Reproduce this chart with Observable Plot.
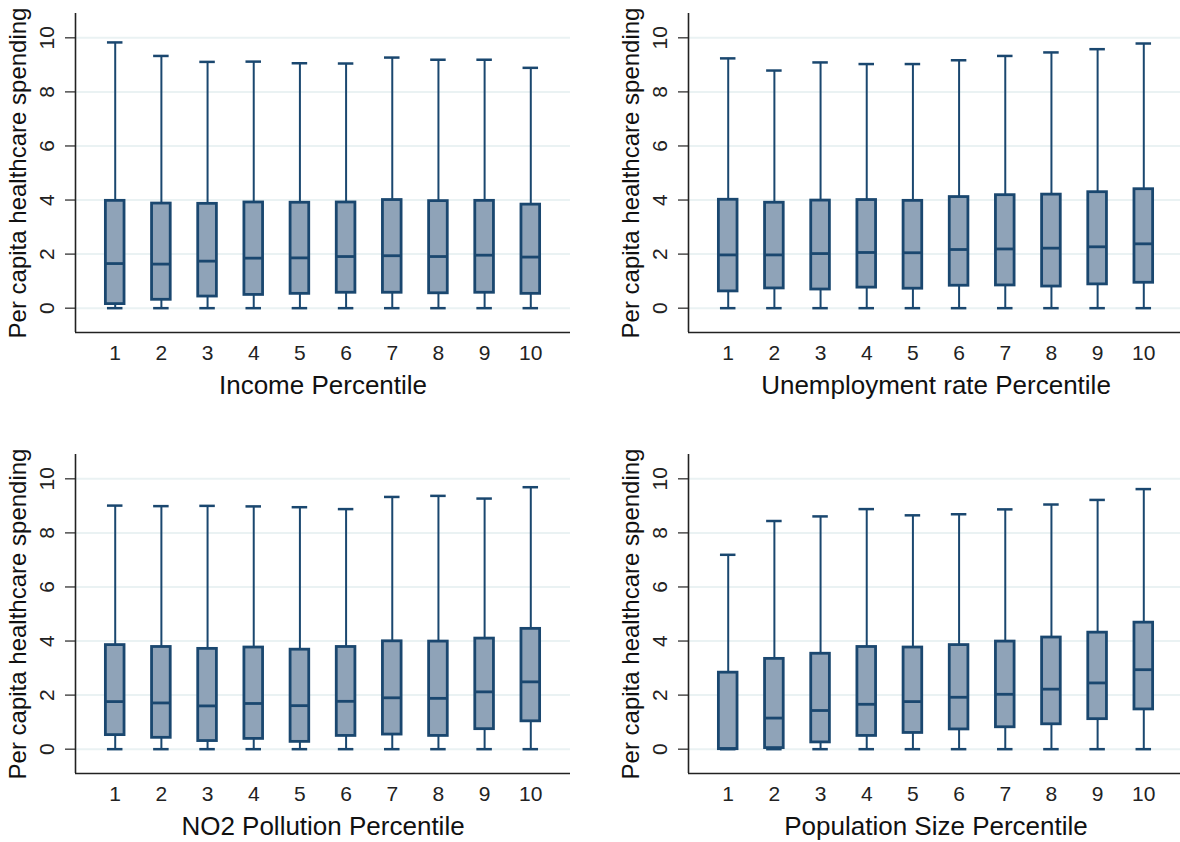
<!DOCTYPE html>
<html>
<head>
<meta charset="utf-8">
<script src="https://cdn.jsdelivr.net/npm/d3@7"></script>
<script src="https://cdn.jsdelivr.net/npm/@observablehq/plot@0.6"></script>
<style>
  html, body { margin: 0; padding: 0; background: #fff; }
  #wrap { position: relative; width: 1180px; height: 842px; overflow: hidden; background: #fff; }
  .panel { position: absolute; width: 613px; height: 441px; }
  .panel svg { max-width: none !important; width: 613px !important; height: 441px !important; }
</style>
</head>
<body>
<div id="wrap"></div>
<script>
// ---- data ----
const categories = [1, 2, 3, 4, 5, 6, 7, 8, 9, 10];
const yTicks = [0, 2, 4, 6, 8, 10];
const yTitle = "Per capita healthcare spending";

const incomeTitle = "Income Percentile";
const incomeMin = [0, 0, 0, 0, 0, 0, 0, 0, 0, 0];
const incomeQ1  = [0.15, 0.31, 0.43, 0.49, 0.53, 0.57, 0.57, 0.55, 0.57, 0.53];
const incomeMed = [1.65, 1.63, 1.74, 1.85, 1.86, 1.91, 1.94, 1.91, 1.96, 1.89];
const incomeQ3  = [3.97, 3.87, 3.86, 3.91, 3.90, 3.91, 4.00, 3.96, 3.97, 3.83];
const incomeMax = [9.83, 9.33, 9.11, 9.12, 9.06, 9.05, 9.27, 9.19, 9.19, 8.89];

const unempTitle = "Unemployment rate Percentile";
const unempMin = [0, 0, 0, 0, 0, 0, 0, 0, 0, 0];
const unempQ1  = [0.62, 0.73, 0.69, 0.76, 0.72, 0.83, 0.84, 0.80, 0.88, 0.94];
const unempMed = [1.97, 1.97, 2.02, 2.06, 2.05, 2.17, 2.19, 2.22, 2.27, 2.38];
const unempQ3  = [4.01, 3.90, 3.98, 4.00, 3.97, 4.11, 4.18, 4.20, 4.29, 4.40];
const unempMax = [9.24, 8.79, 9.09, 9.03, 9.03, 9.17, 9.33, 9.46, 9.58, 9.79];

const no2Title = "NO2 Pollution Percentile";
const no2Min = [0, 0, 0, 0, 0, 0, 0, 0, 0, 0];
const no2Q1  = [0.52, 0.42, 0.30, 0.38, 0.27, 0.49, 0.54, 0.49, 0.74, 1.03];
const no2Med = [1.76, 1.71, 1.60, 1.69, 1.61, 1.77, 1.90, 1.88, 2.12, 2.49];
const no2Q3  = [3.85, 3.78, 3.71, 3.76, 3.68, 3.78, 3.99, 3.98, 4.09, 4.45];
const no2Max = [9.01, 8.99, 9.00, 8.98, 8.95, 8.88, 9.33, 9.37, 9.27, 9.69];

const popTitle = "Population Size Percentile";
const popMin = [0, 0, 0, 0, 0, 0, 0, 0, 0, 0];
const popQ1  = [0.00, 0.04, 0.25, 0.49, 0.60, 0.73, 0.81, 0.92, 1.11, 1.47];
const popMed = [0.02, 1.15, 1.43, 1.66, 1.76, 1.92, 2.03, 2.22, 2.45, 2.94];
const popQ3  = [2.83, 3.34, 3.53, 3.78, 3.76, 3.85, 3.98, 4.13, 4.31, 4.68];
const popMax = [7.19, 8.44, 8.61, 8.88, 8.65, 8.69, 8.87, 9.05, 9.22, 9.62];

const xDomain = [0.14, 10.86];
const yDomain = [-0.9, 10.9];

// ---- style ----
const NAVY = "#1a476f";
const FILL = "#8fa3b8";
const GRID = "#eaf2f3";
const AXIS = "#222222";
const FONT = "'Liberation Sans', Arial, Helvetica, sans-serif";
const boxHalf = 0.202;
const capHalf = 0.168;

function table(min, q1, med, q3, max) {
  return categories.map((c, i) => ({cat: c, lo: min[i], q1: q1[i], med: med[i], q3: q3[i], hi: max[i]}));
}

function panel(rows, xTitle) {
  return Plot.plot({
    width: 613,
    height: 441,
    marginLeft: 75,
    marginRight: 43,
    marginTop: 13,
    marginBottom: 109,
    style: {fontFamily: FONT, background: "transparent", color: AXIS, overflow: "visible"},
    x: {type: "linear", domain: xDomain},
    y: {type: "linear", domain: yDomain},
    marks: [
      Plot.ruleY(yTicks, {stroke: GRID, strokeWidth: 2}),
      Plot.ruleX(rows, {x: "cat", y1: "lo", y2: "q1", stroke: NAVY, strokeWidth: 2}),
      Plot.ruleX(rows, {x: "cat", y1: "q3", y2: "hi", stroke: NAVY, strokeWidth: 2}),
      Plot.ruleY(rows, {y: "lo", x1: d => d.cat - capHalf, x2: d => d.cat + capHalf, stroke: NAVY, strokeWidth: 2.5}),
      Plot.ruleY(rows, {y: "hi", x1: d => d.cat - capHalf, x2: d => d.cat + capHalf, stroke: NAVY, strokeWidth: 2.5}),
      Plot.rect(rows, {x1: d => d.cat - boxHalf, x2: d => d.cat + boxHalf, y1: "q1", y2: "q3", fill: FILL, stroke: NAVY, strokeWidth: 2.8}),
      Plot.ruleY(rows, {y: "med", x1: d => d.cat - boxHalf, x2: d => d.cat + boxHalf, stroke: NAVY, strokeWidth: 2.8}),
      Plot.ruleX([xDomain[0]], {stroke: AXIS, strokeWidth: 1.6}),
      Plot.ruleY([yDomain[0]], {stroke: AXIS, strokeWidth: 1.6}),
      Plot.axisX({ticks: categories, tickSize: 0, tickPadding: 13, fontSize: 21, tickFormat: d => String(d), label: null}),
      Plot.axisY({ticks: yTicks, tickSize: 10, tickPadding: 11.5, tickRotate: -90, fontSize: 21, tickFormat: d => String(d), label: null, strokeWidth: 1.2}),
      Plot.text([yTitle], {frameAnchor: "left", dx: -57, rotate: -90, fontSize: 24, textAnchor: "middle", lineAnchor: "middle", fill: "#111"}),
      Plot.text([xTitle], {frameAnchor: "bottom", dy: 53, fontSize: 26, textAnchor: "middle", lineAnchor: "middle", fill: "#111"})
    ]
  });
}

const wrap = document.getElementById("wrap");
const specs = [
  {rows: table(incomeMin, incomeQ1, incomeMed, incomeQ3, incomeMax), title: incomeTitle, left: 0, top: 0},
  {rows: table(unempMin, unempQ1, unempMed, unempQ3, unempMax), title: unempTitle, left: 613, top: 0},
  {rows: table(no2Min, no2Q1, no2Med, no2Q3, no2Max), title: no2Title, left: 0, top: 441},
  {rows: table(popMin, popQ1, popMed, popQ3, popMax), title: popTitle, left: 613, top: 441}
];
for (const s of specs) {
  const div = document.createElement("div");
  div.className = "panel";
  div.style.left = s.left + "px";
  div.style.top = s.top + "px";
  div.appendChild(panel(s.rows, s.title));
  wrap.appendChild(div);
}
</script>
</body>
</html>
